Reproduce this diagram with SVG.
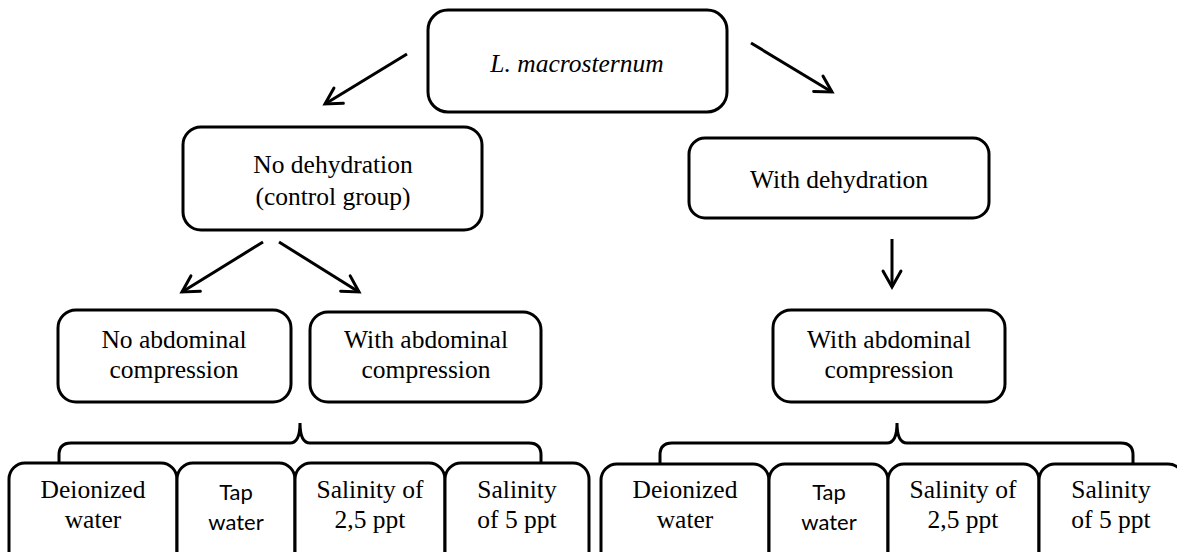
<svg xmlns="http://www.w3.org/2000/svg" width="1177" height="552" viewBox="0 0 1177 552">
<defs>
<marker id="arr" markerUnits="userSpaceOnUse" markerWidth="24" markerHeight="24" viewBox="0 0 24 24" refX="20" refY="12" orient="auto">
<path d="M4,3 L20,12 L4,21" fill="none" stroke="#000" stroke-width="3" stroke-linejoin="miter" stroke-linecap="round"/>
</marker>
<style>
.box{fill:#fff;stroke:#000;stroke-width:3}
.t{font-family:"Liberation Serif","Times New Roman",serif;font-size:25.5px;fill:#000;text-anchor:middle}
.s{font-family:Lato,"Liberation Sans",sans-serif;font-size:22px;fill:#000;text-anchor:middle}
.c{fill:none;stroke:#000;stroke-width:3}
</style>
</defs>
<rect width="1177" height="552" fill="#fff"/>
<g id="connectors">
<line class="c" x1="407" y1="54" x2="325" y2="104" marker-end="url(#arr)"/>
<line class="c" x1="751" y1="43" x2="832" y2="92" marker-end="url(#arr)"/>
<line class="c" x1="263" y1="242" x2="182" y2="292" marker-end="url(#arr)"/>
<line class="c" x1="279" y1="242" x2="359" y2="292" marker-end="url(#arr)"/>
<line class="c" x1="892" y1="239" x2="892" y2="287" marker-end="url(#arr)"/>
<path class="c" d="M59,463 L59,455 Q59,443 71,443 L290,443 Q300,443 300,423 Q300,443 310,443 L529,443 Q541,443 541,455 L541,463"/>
<path class="c" d="M660,463 L660,455 Q660,443 672,443 L887,443 Q897,443 897,423 Q897,443 907,443 L1121,443 Q1133,443 1133,455 L1133,463"/>
</g>
<g id="n_root"><rect class="box" x="428" y="10" width="299" height="102" rx="20"/><text class="t" x="577" y="72" font-style="italic">L. macrosternum</text></g>
<g id="n_nodehyd"><rect class="box" x="183" y="127" width="299" height="103" rx="18"/><text class="t" x="333" y="173">No dehydration</text><text class="t" x="333" y="205">(control group)</text></g>
<g id="n_withdehyd"><rect class="box" x="689" y="138" width="300" height="80" rx="16"/><text class="t" x="839" y="188">With dehydration</text></g>
<g id="n_noabd"><rect class="box" x="58" y="310" width="233" height="92" rx="18"/><text class="t" x="174" y="348">No abdominal</text><text class="t" x="174" y="378">compression</text></g>
<g id="n_withabd1"><rect class="box" x="310" y="312" width="231" height="90" rx="18"/><text class="t" x="426" y="348">With abdominal</text><text class="t" x="426" y="378">compression</text></g>
<g id="n_withabd2"><rect class="box" x="773" y="310" width="232" height="92" rx="18"/><text class="t" x="889" y="348">With abdominal</text><text class="t" x="889" y="378">compression</text></g>
<g id="n_l1"><rect class="box" x="9" y="463" width="168" height="110" rx="16"/><text class="t" x="93" y="498">Deionized</text><text class="t" x="93" y="528">water</text></g>
<g id="n_l2"><rect class="box" x="177" y="463" width="118" height="110" rx="16"/><text class="s" x="236" y="500">Tap</text><text class="s" x="236" y="530">water</text></g>
<g id="n_l3"><rect class="box" x="295" y="463" width="150" height="110" rx="16"/><text class="t" x="370" y="498">Salinity of</text><text class="t" x="370" y="528">2,5 ppt</text></g>
<g id="n_l4"><rect class="box" x="445" y="463" width="144" height="110" rx="16"/><text class="t" x="517" y="498">Salinity</text><text class="t" x="517" y="528">of 5 ppt</text></g>
<g id="n_r1"><rect class="box" x="601" y="464" width="168" height="110" rx="16"/><text class="t" x="685" y="498">Deionized</text><text class="t" x="685" y="528">water</text></g>
<g id="n_r2"><rect class="box" x="769" y="464" width="119" height="110" rx="16"/><text class="s" x="829" y="500">Tap</text><text class="s" x="829" y="530">water</text></g>
<g id="n_r3"><rect class="box" x="888" y="464" width="151" height="110" rx="16"/><text class="t" x="963" y="498">Salinity of</text><text class="t" x="963" y="528">2,5 ppt</text></g>
<g id="n_r4"><rect class="box" x="1039" y="464" width="145" height="110" rx="16"/><text class="t" x="1111" y="498">Salinity</text><text class="t" x="1111" y="528">of 5 ppt</text></g>
</svg>
